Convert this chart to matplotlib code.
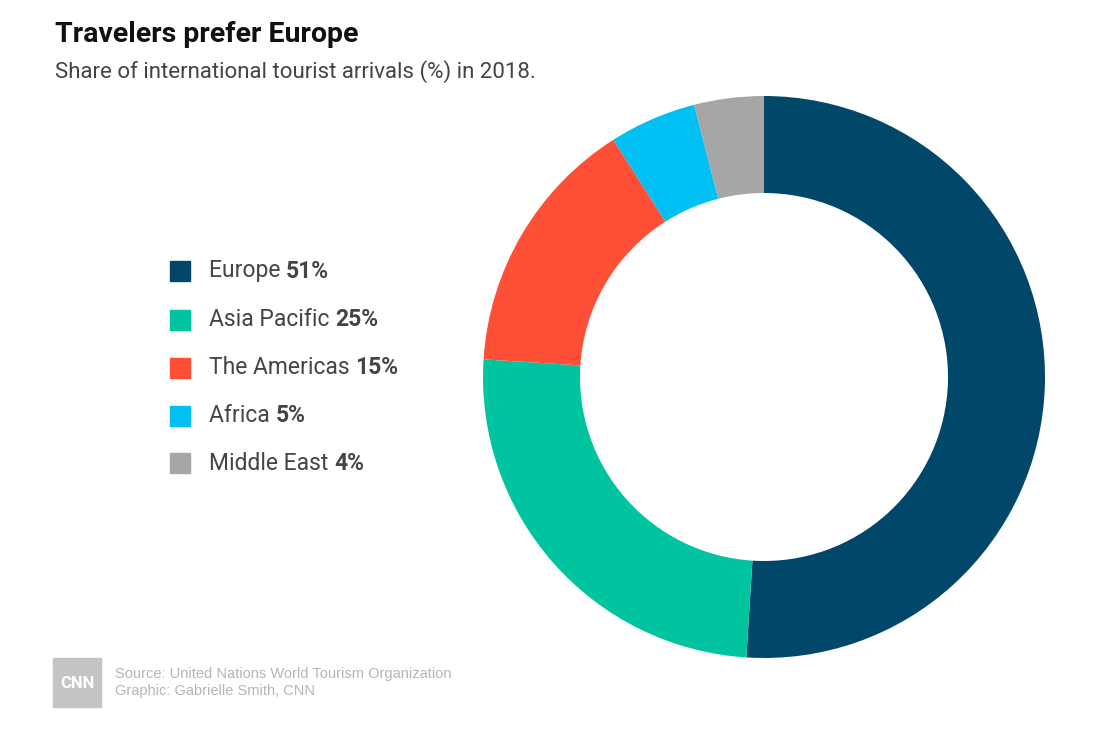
import matplotlib
matplotlib.use("Agg")
import matplotlib.pyplot as plt
from matplotlib.patches import Rectangle

regions = ["Europe", "Asia Pacific", "The Americas", "Africa", "Middle East"]
shares = [51, 25, 15, 5, 4]
colors = ["#01476a", "#00c4a0", "#ff4f37", "#00bff2", "#a6a6a6"]

W, H = 1110, 737
COND = ["Liberation Sans Narrow", "Roboto", "DejaVu Sans"]


def fx(x):
    return x / W


def fy(y):
    return 1 - y / H


fig = plt.figure(figsize=(W / 100, H / 100), dpi=100)
fig.patch.set_facecolor("white")

# donut
cx, cy, r_out, r_in = 764, 377, 281, 184
ax = fig.add_axes([fx(cx - r_out), fy(cy + r_out), 2 * r_out / W, 2 * r_out / H])
ax.pie(shares, colors=colors, startangle=90, counterclock=False, radius=1,
       wedgeprops=dict(width=1 - r_in / r_out, linewidth=0))
ax.set_xlim(-1, 1)
ax.set_ylim(-1, 1)
ax.axis("off")

# title
fig.text(fx(55), fy(34), "Travelers prefer Europe", fontsize=20.5, fontweight="bold",
         family=COND, color="#111111", va="center", ha="left")
fig.text(fx(55), fy(72), "Share of international tourist arrivals (%) in 2018.",
         fontsize=16, family=COND, color="#444444", va="center", ha="left")

# legend
renderer = fig.canvas.get_renderer()
rows = [271, 320, 368, 416, 463]
for name, val, c, y in zip(regions, shares, colors, rows):
    fig.add_artist(Rectangle((fx(170), fy(y + 10)), 20 / W, 20 / H, color=c,
                             transform=fig.transFigure))
    t = fig.text(fx(209), fy(y), name + " ", fontsize=16.5, family=COND,
                 color="#444444", va="center", ha="left")
    bb = t.get_window_extent(renderer)
    fig.text(bb.x1 / fig.dpi / fig.get_figwidth(), fy(y), f"{val}%", fontsize=16.5,
             family=COND, fontweight="bold", color="#444444", va="center", ha="left")

# footer
fig.add_artist(Rectangle((fx(53), fy(707)), 48 / W, 49 / H, color="#c4c4c4",
                         transform=fig.transFigure))
fig.text(fx(77), fy(683), "CNN", fontsize=12, fontweight="bold", color="white",
         ha="center", va="center", family=COND)
fig.text(fx(115), fy(674), "Source: United Nations World Tourism Organization",
         fontsize=10.5, color="#b5b5b5", va="center", ha="left",
         family=["Liberation Sans", "DejaVu Sans"])
fig.text(fx(115), fy(691), "Graphic: Gabrielle Smith, CNN",
         fontsize=10.5, color="#b5b5b5", va="center", ha="left",
         family=["Liberation Sans", "DejaVu Sans"])

fig.savefig("out.png", dpi=100)
